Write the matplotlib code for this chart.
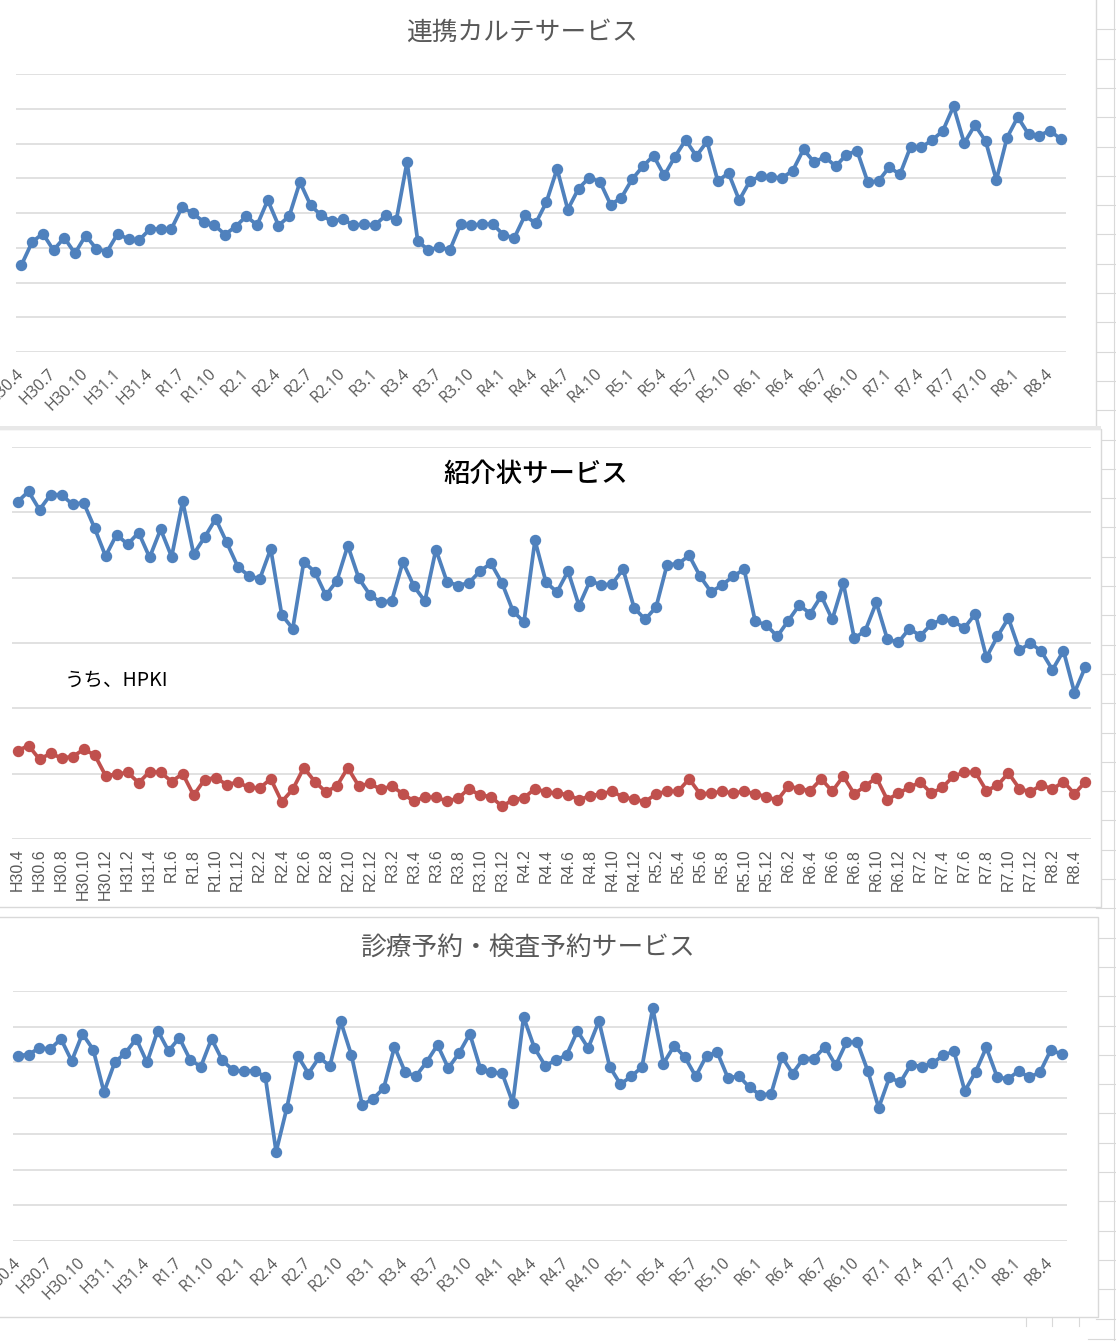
import matplotlib
matplotlib.use("Agg")
import matplotlib.pyplot as plt
from matplotlib.patches import Rectangle
from matplotlib.lines import Line2D

# ---------------- data (monthly, H30.4 .. R8.5) ----------------
def month_label(i):
    y = 2018 + (3 + i) // 12
    m = (3 + i) % 12 + 1
    if y == 2018 or (y == 2019 and m <= 4):
        return f"H{y - 1988}.{m}"
    return f"R{y - 2018}.{m}"

months = [month_label(i) for i in range(98)]

renkei_karte = [250, 316, 341, 293, 329, 284, 335, 297, 289, 341, 324, 322, 354, 354, 354,
                417, 399, 375, 366, 338, 361, 391, 365, 437, 364, 391, 489, 422, 393, 376,
                382, 365, 368, 365, 393, 380, 547, 318, 294, 301, 294, 368, 365, 368, 368,
                337, 328, 393, 370, 431, 527, 410, 470, 502, 490, 424, 444, 497, 534, 565,
                508, 562, 610, 564, 606, 492, 515, 437, 492, 506, 503, 501, 522, 583, 546,
                562, 534, 568, 579, 489, 492, 532, 511, 591, 589, 610, 636, 707, 601, 653,
                607, 495, 617, 676, 627, 623, 637, 613]

shokaijo = [516, 532, 504, 527, 527, 512, 515, 476, 433, 466, 451, 469, 431, 474, 432,
            517, 436, 462, 490, 454, 417, 403, 398, 444, 343, 322, 424, 409, 373, 395,
            449, 399, 374, 362, 365, 424, 387, 364, 443, 394, 388, 392, 410, 422, 392,
            349, 332, 457, 393, 378, 410, 357, 395, 389, 390, 413, 354, 336, 355, 420,
            421, 434, 402, 378, 389, 402, 413, 333, 328, 310, 334, 358, 345, 372, 336,
            392, 307, 319, 362, 306, 301, 322, 311, 329, 336, 333, 323, 345, 278, 310,
            338, 289, 300, 287, 259, 288, 224, 264]

shokaijo_hpki = [135, 143, 122, 131, 124, 126, 137, 129, 97, 99, 102, 86, 103, 102, 88,
                 100, 67, 91, 94, 83, 87, 79, 78, 92, 57, 76, 109, 88, 72, 81,
                 109, 81, 85, 76, 81, 69, 58, 64, 64, 58, 62, 77, 67, 65, 50,
                 60, 63, 77, 72, 70, 68, 60, 66, 69, 73, 64, 61, 57, 69, 73,
                 73, 92, 69, 70, 73, 70, 73, 69, 65, 59, 81, 77, 74, 92, 73,
                 96, 69, 81, 94, 60, 70, 79, 87, 70, 79, 96, 102, 102, 74, 82,
                 101, 77, 72, 83, 76, 88, 69, 88]

yoyaku = [519, 522, 541, 537, 566, 504, 580, 536, 417, 500, 527, 566, 500, 589, 532,
          569, 508, 488, 566, 506, 478, 475, 477, 459, 250, 373, 519, 469, 514, 490,
          615, 520, 381, 398, 428, 544, 472, 462, 502, 549, 484, 526, 580, 481, 472,
          470, 387, 627, 541, 491, 506, 521, 588, 540, 616, 488, 439, 461, 487, 652,
          497, 547, 514, 461, 519, 528, 456, 462, 430, 409, 412, 516, 469, 511, 511,
          544, 492, 556, 557, 475, 373, 458, 444, 494, 488, 498, 520, 531, 420, 473,
          542, 460, 453, 476, 458, 473, 535, 523]

titles = ["連携カルテサービス", "紹介状サービス", "診療予約・検査予約サービス"]
sub_label = "うち、HPKI"

BLUE = "#4F81BD"
RED = "#C0504D"
GRID = "#D9D9D9"
TXT = "#595959"

W, H = 1116, 1341
fig = plt.figure(figsize=(W / 100, H / 100), dpi=100)
fig.patch.set_facecolor("white")


def fx(x):
    return x / W


def fy(y):
    return 1 - y / H


def rect(x0, y0, x1, y1, fc="white", ec=GRID, lw=1.0, z=0):
    r = Rectangle((fx(x0), fy(y1)), (x1 - x0) / W, (y1 - y0) / H,
                  transform=fig.transFigure, facecolor=fc, edgecolor=ec,
                  linewidth=lw, zorder=z)
    fig.add_artist(r)


def hline(y, x0, x1, c=GRID, lw=1.0, z=0):
    fig.add_artist(Line2D([fx(x0), fx(x1)], [fy(y), fy(y)], transform=fig.transFigure,
                          color=c, lw=lw, zorder=z))


def vline(x, y0, y1, c=GRID, lw=1.0, z=0):
    fig.add_artist(Line2D([fx(x), fx(x)], [fy(y0), fy(y1)], transform=fig.transFigure,
                          color=c, lw=lw, zorder=z))


# spreadsheet cell lines in the background (right strip / bottom strip)
k = 1
while 29.3 * k < H:
    hline(29.3 * k, 1096, 1116, lw=0.8, z=0)
    k += 1
vline(1114, 0, H, lw=0.8, z=0)
for xx in (1026, 1052, 1079):
    vline(xx, 1317, 1326, lw=0.8, z=0)
hline(1339, 1088, 1116, lw=0.8, z=0)

# chart panels
rect(-2, -2, 1096, 427, z=1)
rect(-2, 429, 1101, 907, z=1)
rect(-2, 917, 1098, 1317, z=1)
rect(-2, 426, 1101, 430, fc="#E8E8E8", ec="none", z=2)


def make_axes(x0, y0, x1, y1):
    ax = fig.add_axes([fx(x0), fy(y1), (x1 - x0) / W, (y1 - y0) / H])
    ax.set_facecolor("none")
    ax.set_zorder(3)
    for s in ax.spines.values():
        s.set_visible(False)
    return ax


n = len(months)
xs = list(range(n))


def style(ax, ymax, step, tick_every, rot, pad, family, size):
    ax.set_xlim(-0.5, n - 0.5)
    ax.set_ylim(0, ymax)
    ax.set_yticks(range(0, ymax + 1, step))
    ax.set_yticklabels([])
    ax.yaxis.grid(True, color=GRID, lw=1.1)
    ax.set_axisbelow(True)
    ax.tick_params(axis="both", length=0)
    idx = list(range(0, n, tick_every))
    ax.set_xticks(idx)
    ax.set_xticklabels([months[i] for i in idx], family=family, fontsize=size, color=TXT)
    ax.tick_params(axis="x", pad=pad)
    for lbl in ax.get_xticklabels():
        if rot == 45:
            lbl.set_rotation(45)
            lbl.set_ha("right")
            lbl.set_va("center")
            lbl.set_rotation_mode("anchor")
        else:
            lbl.set_rotation(90)
            lbl.set_ha("center")
            lbl.set_va("top")


def plot_line(ax, vals, color):
    ax.plot(xs, vals, color=color, lw=2.7, marker="o", ms=7.2,
            markerfacecolor=color, markeredgecolor=color, clip_on=False, zorder=4)


# --- top: 連携カルテサービス
ax1 = make_axes(16, 74, 1066, 352)
style(ax1, 800, 100, 3, 45, 14, "Open Sans", 11.5)
plot_line(ax1, renkei_karte, BLUE)

# --- middle: 紹介状サービス
ax2 = make_axes(12, 447, 1091, 839)
style(ax2, 600, 100, 2, 90, 7, "Liberation Sans", 11.5)
plot_line(ax2, shokaijo, BLUE)
plot_line(ax2, shokaijo_hpki, RED)

# --- bottom: 診療予約・検査予約サービス
ax3 = make_axes(12.5, 991, 1067, 1241)
style(ax3, 700, 100, 3, 45, 14, "Open Sans", 11.5)
plot_line(ax3, yoyaku, BLUE)

# titles
cjk = ["Noto Sans CJK JP", "DejaVu Sans"]
fig.text(fx(522), fy(33), titles[0], ha="center", va="center", fontsize=18.5,
         color=TXT, family=cjk, zorder=5)
fig.text(fx(536), fy(474), titles[1], ha="center", va="center", fontsize=19,
         color="black", family=cjk, weight="medium", zorder=5)
fig.text(fx(65), fy(680), sub_label, ha="left", va="center", fontsize=14,
         color="black", family=cjk, zorder=5)
fig.text(fx(527), fy(949), titles[2], ha="center", va="center", fontsize=18.5,
         color=TXT, family=cjk, zorder=5)

fig.savefig("out.png", dpi=100, facecolor="white")
